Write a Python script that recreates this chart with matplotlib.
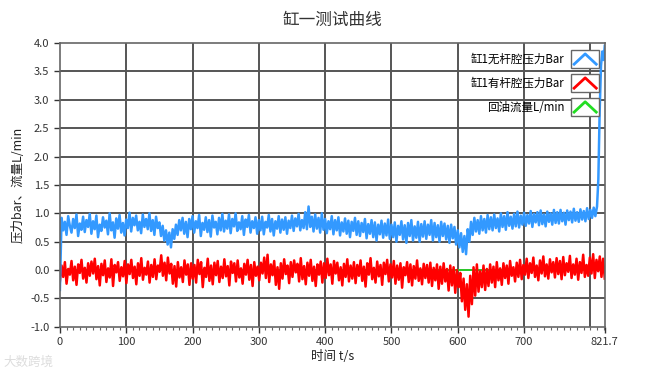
import numpy as np
import matplotlib.pyplot as plt
from matplotlib.legend_handler import HandlerBase
from matplotlib.patches import Rectangle
from matplotlib.lines import Line2D

plt.rcParams['font.family'] = ['Noto Sans CJK SC', 'DejaVu Sans']

t_end = 821.7

# 缸1无杆腔压力 Bar, 0 .. 810 s, 每 2.5 s 一个点
p_rodless = [
    -0.35, 0.92, 0.70, 0.85, 0.62, 0.95, 0.78, 0.66, 0.90, 0.74, 0.98, 0.60, 0.82, 0.71, 0.94, 0.67, 0.88, 0.76, 0.99, 0.64,
    0.86, 0.72, 0.96, 0.58, 0.80, 0.69, 0.93, 0.75, 0.87, 0.63, 1.00, 0.70, 0.84, 0.57, 0.91, 0.73, 0.97, 0.66, 0.83, 0.61,
    0.89, 0.74, 1.01, 0.68, 0.92, 0.79, 0.96, 0.70, 0.85, 0.65, 0.98, 0.76, 0.90, 0.72, 1.00, 0.69, 0.88, 0.62, 0.94, 0.74,
    0.84, 0.60, 0.78, 0.52, 0.70, 0.45, 0.66, 0.40, 0.72, 0.55, 0.80, 0.62, 0.88, 0.70, 0.92, 0.64, 0.85, 0.58, 0.90, 0.72,
    0.95, 0.66, 0.86, 0.74, 0.97, 0.60, 0.83, 0.71, 0.93, 0.67, 0.88, 0.59, 0.96, 0.75, 0.85, 0.63, 0.92, 0.70, 0.99, 0.68,
    0.87, 0.73, 0.98, 0.65, 0.90, 0.77, 1.00, 0.69, 0.84, 0.72, 0.95, 0.62, 0.89, 0.76, 0.97, 0.66, 0.86, 0.74, 0.93, 0.64,
    0.88, 0.70, 0.94, 0.63, 0.85, 0.75, 0.97, 0.68, 0.90, 0.61, 0.86, 0.73, 0.95, 0.66, 0.89, 0.71, 0.93, 0.64, 0.87, 0.74,
    0.96, 0.69, 0.91, 0.77, 0.99, 0.70, 0.88, 0.74, 1.02, 0.72, 1.12, 0.76, 0.94, 0.68, 0.98, 0.73, 0.92, 0.66, 1.00, 0.71,
    0.90, 0.65, 0.86, 0.72, 0.95, 0.63, 0.88, 0.70, 0.93, 0.61, 0.84, 0.68, 0.91, 0.64, 0.87, 0.58, 0.85, 0.69, 0.92, 0.62,
    0.86, 0.60, 0.83, 0.67, 0.90, 0.56, 0.81, 0.64, 0.88, 0.58, 0.84, 0.52, 0.80, 0.63, 0.87, 0.57, 0.82, 0.61, 0.89, 0.55,
    0.80, 0.58, 0.84, 0.50, 0.78, 0.62, 0.86, 0.54, 0.79, 0.48, 0.83, 0.60, 0.88, 0.52, 0.77, 0.57, 0.85, 0.50, 0.81, 0.59,
    0.86, 0.55, 0.80, 0.62, 0.88, 0.52, 0.83, 0.58, 0.79, 0.50, 0.85, 0.60, 0.82, 0.54, 0.78, 0.48, 0.80, 0.56, 0.76, 0.45,
    0.70, 0.40, 0.65, 0.32, 0.60, 0.28, 0.72, 0.50, 0.85, 0.62, 0.92, 0.68, 0.88, 0.64, 0.95, 0.70, 0.90, 0.66, 0.97, 0.72,
    0.93, 0.70, 0.98, 0.74, 0.91, 0.68, 1.00, 0.76, 0.95, 0.71, 1.02, 0.78, 0.94, 0.73, 0.99, 0.77, 1.03, 0.75, 0.96, 0.80,
    1.01, 0.78, 0.97, 0.82, 1.04, 0.76, 0.99, 0.84, 1.02, 0.79, 1.05, 0.81, 0.98, 0.77, 1.03, 0.85, 1.00, 0.80, 1.06, 0.83,
    1.02, 0.82, 1.06, 0.86, 1.01, 0.80, 1.05, 0.88, 1.03, 0.84, 1.08, 0.87, 1.02, 0.85, 1.07, 0.89, 1.04, 0.86, 1.09, 0.90,
    1.06, 0.92, 1.10, 0.95, 1.12,
]
# 末尾压力上升段
tail_t = [812, 814, 816, 818, 820, 821.7]
tail_p = [1.6, 2.8, 3.6, 3.85, 3.7, 3.95]

# 缸1有杆腔压力 Bar, 0 .. 821.7 s
p_rod = [
    -0.20, 0.08, -0.12, 0.14, -0.24, 0.02, -0.08, 0.16, -0.18, 0.06, -0.26, 0.10, -0.05, 0.18, -0.15, 0.04, -0.22, 0.12, -0.10, 0.15,
    -0.06, 0.20, -0.16, 0.07, -0.27, 0.11, -0.09, 0.17, -0.21, 0.03, -0.13, 0.19, -0.28, 0.09, -0.04, 0.14, -0.19, 0.05, -0.11, 0.16,
    -0.23, 0.10, -0.07, 0.18, -0.14, 0.06, -0.25, 0.12, -0.10, 0.21, -0.17, 0.04, -0.08, 0.15, -0.22, 0.09, -0.12, 0.19, -0.16, 0.08,
    -0.03, 0.26, -0.10, 0.13, -0.18, 0.22, -0.06, 0.11, -0.24, 0.07, -0.29, 0.14, -0.13, 0.05, -0.21, 0.17, -0.08, 0.10, -0.26, 0.12,
    -0.15, 0.09, -0.22, 0.18, -0.07, 0.14, -0.30, 0.04, -0.12, 0.20, -0.19, 0.08, -0.25, 0.13, -0.09, 0.16, -0.21, 0.06, -0.14, 0.19,
    -0.11, 0.07, -0.27, 0.15, -0.05, 0.12, -0.20, 0.17, -0.13, 0.03, -0.24, 0.11, -0.08, 0.18, -0.17, 0.09, -0.28, 0.14, -0.10, 0.06,
    -0.18, 0.13, -0.06, 0.22, -0.14, 0.27, -0.21, 0.10, -0.09, 0.16, -0.26, 0.05, -0.33, 0.12, -0.15, 0.19, -0.07, 0.08, -0.23, 0.14,
    -0.12, 0.17, -0.04, 0.11, -0.20, 0.21, -0.16, 0.07, -0.25, 0.13, -0.10, 0.18, -0.19, 0.06, -0.28, 0.10, -0.08, 0.15, -0.22, 0.12,
    -0.14, 0.20, -0.09, 0.10, -0.24, 0.16, -0.06, 0.13, -0.18, 0.05, -0.27, 0.11, -0.12, 0.19, -0.20, 0.08, -0.15, 0.14, -0.23, 0.09,
    -0.10, 0.17, -0.19, 0.06, -0.29, 0.12, -0.08, 0.21, -0.16, 0.04, -0.22, 0.15, -0.11, 0.09, -0.26, 0.13, -0.07, 0.18, -0.20, 0.10,
    -0.13, 0.16, -0.24, 0.08, -0.17, 0.12, -0.31, 0.05, -0.09, 0.14, -0.21, 0.10, -0.27, 0.07, -0.15, 0.17, -0.19, 0.03, -0.25, 0.11,
    -0.14, 0.09, -0.22, 0.13, -0.28, 0.04, -0.18, 0.10, -0.33, 0.06, -0.24, 0.12, -0.20, 0.02, -0.36, 0.08, -0.27, 0.05, -0.40, 0.00,
    -0.30, -0.05, -0.55, -0.15, -0.70, -0.25, -0.82, -0.10, -0.60, 0.05, -0.45, 0.10, -0.38, -0.02, -0.30, 0.08, -0.35, 0.02, -0.28, 0.10,
    -0.22, 0.06, -0.30, 0.14, -0.18, 0.03, -0.26, 0.12, -0.14, 0.08, -0.24, 0.16, -0.10, 0.05, -0.20, 0.13, -0.12, 0.18, -0.16, 0.09,
    -0.08, 0.20, -0.14, 0.12, -0.05, 0.22, -0.12, 0.08, -0.18, 0.17, -0.06, 0.24, -0.11, 0.10, -0.15, 0.19, -0.04, 0.14, -0.13, 0.21,
    -0.07, 0.16, -0.16, 0.23, -0.09, 0.12, -0.03, 0.25, -0.14, 0.10, -0.08, 0.20, -0.17, 0.14, -0.05, 0.27, -0.12, 0.09, -0.10, 0.22,
    -0.06, 0.28, -0.14, 0.18, -0.02, 0.24, -0.12, 0.20, -0.15,
]

# 回油流量 L/min
flow_t = [0, t_end]
flow = [0.0, 0.0]

labels = ["缸1无杆腔压力Bar", "缸1有杆腔压力Bar", "回油流量L/min"]
colors = ["#3399ff", "#ff0000", "#22dd22"]

t_rodless = np.linspace(0, 810, len(p_rodless))
t_rod = np.linspace(0, t_end, len(p_rod))


class CaretHandler(HandlerBase):
    def create_artists(self, legend, orig_handle, xdescent, ydescent,
                       width, height, fontsize, trans):
        x0, y0 = -xdescent, -ydescent
        box = Rectangle((x0, y0 - height * 0.35), width, height * 1.7,
                        facecolor="white", edgecolor="#666666", lw=1.0,
                        transform=trans)
        ln = Line2D([x0 + width * 0.1, x0 + width * 0.5, x0 + width * 0.9],
                    [y0 - height * 0.0, y0 + height * 1.0, y0 - height * 0.0],
                    color=orig_handle.get_color(), lw=2.0, transform=trans)
        return [box, ln]


fig = plt.figure(figsize=(6.51, 3.77), dpi=100)
ax = fig.add_axes([0.092, 0.133, 0.837, 0.753])

h3, = ax.plot(flow_t, flow, color=colors[2], lw=1.2, label=labels[2])
h2, = ax.plot(t_rod, p_rod, color=colors[1], lw=1.8, label=labels[1])
h1, = ax.plot(np.concatenate([t_rodless, tail_t]),
              np.concatenate([p_rodless, tail_p]),
              color=colors[0], lw=1.8, label=labels[0])

ax.set_xlim(0, t_end)
ax.set_ylim(-1.0, 4.0)
ax.set_xticks([0, 100, 200, 300, 400, 500, 600, 700, 821.7])
ax.set_xticklabels(["0", "100", "200", "300", "400", "500", "600", "700", "821.7"])
ax.set_xticks(np.arange(0, 821, 10), minor=True)
ax.set_yticks(np.arange(-1.0, 4.01, 0.5))
ax.set_yticklabels([f"{v:.1f}" for v in np.arange(-1.0, 4.01, 0.5)])

# 网格 (800 处也有一条竖线)
for xv in range(100, 900, 100):
    ax.axvline(xv, color="#555555", lw=1.4, zorder=0)
for yv in np.arange(-0.5, 4.0, 0.5):
    ax.axhline(yv, color="#555555", lw=1.4, zorder=0)

for s in ax.spines.values():
    s.set_color("#666666")
    s.set_linewidth(1.2)
ax.tick_params(axis="both", which="major", labelsize=8, colors="#333333",
               length=4, width=1, direction="out")
ax.tick_params(axis="x", which="minor", length=2, width=0.8, color="#666666")

ax.set_title("缸一测试曲线", fontsize=12, color="#333333", pad=13)
ax.set_xlabel("时间 t/s", fontsize=9, color="#222222", labelpad=2)
ax.set_ylabel("压力bar、流量L/min", fontsize=9, color="#222222", labelpad=4)

leg = ax.legend([h1, h2, h3], labels, loc="upper right",
                bbox_to_anchor=(1.0, 0.985), frameon=False, markerfirst=False,
                handler_map={Line2D: CaretHandler()}, handlelength=2.4,
                handleheight=1.0, labelspacing=0.95, fontsize=8.3,
                handletextpad=0.6, borderaxespad=0.1)

fig.text(0.005, 0.03, "大数跨境", fontsize=9, color="#dddddd")

fig.savefig("out.png", dpi=100)
